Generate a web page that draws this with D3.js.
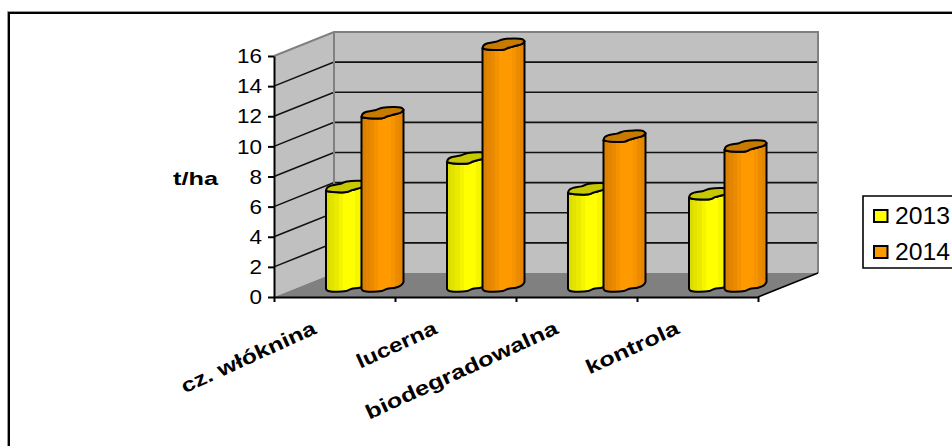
<!DOCTYPE html>
<html>
<head>
<meta charset="utf-8">
<script src="https://cdn.jsdelivr.net/npm/d3@7/dist/d3.min.js"></script>
<style>
  html, body { margin: 0; padding: 0; background: #fff; }
  svg { display: block; }
  text { font-family: "Liberation Sans", Arial, sans-serif; fill: #000; }
</style>
</head>
<body>
<div id="chart"></div>
<script>
// Yield in t/ha per treatment and year
const categories = ["cz. włóknina", "lucerna", "biodegradowalna", "kontrola"];
const years = ["2013", "2014"];
const values2013 = [6.6, 8.5, 6.45, 6.13];
const values2014 = [11.5, 16.05, 9.95, 9.3];
const yTicks = [0, 2, 4, 6, 8, 10, 12, 14, 16];
const yTitle = "t/ha";

const seriesValues = [values2013, values2014];
const face = ["#ffff00", "#ff9900"];
const faceDark = ["#dcdc00", "#dc8000"];
const cap = ["#c8c800", "#c67a00"];

const width = 952, height = 446;
const depth = { x: 60, y: -24 };            // oblique offset from front plane to back wall
const plot = { left: 274, right: 758, top: 56, bottom: 297 };

const svg = d3.select("#chart").append("svg").attr("width", width).attr("height", height);

const x = d3.scaleBand().domain(categories).range([plot.left, plot.right]);
const xEdges = d3.scaleLinear().domain([0, categories.length]).range([plot.left, plot.right]);
const y = d3.scaleLinear().domain([0, 16]).range([plot.bottom, plot.top]);

// Outer chart frame, open towards the right and bottom
svg.append("path").attr("d", `M9,${height} V13 H${width}`)
  .attr("fill", "none").attr("stroke", "#000").attr("stroke-width", 2);
svg.append("path").attr("d", `M7.5,${height} V11.5 H${width}`)
  .attr("fill", "none").attr("stroke", "#999").attr("stroke-width", 1);

// Walls and floor
const poly = pts => "M" + pts.map(p => p.join(",")).join("L") + "Z";
const [y0, y16] = [y(0), y(16)];
const bx = depth.x, by = depth.y;
svg.append("path")
  .attr("d", poly([[plot.left, y0], [plot.left, y16], [plot.left + bx, y16 + by], [plot.left + bx, y0 + by]]))
  .attr("fill", "#c0c0c0");
svg.append("path")
  .attr("d", poly([[plot.left + bx, y16 + by], [plot.right + bx, y16 + by], [plot.right + bx, y0 + by], [plot.left + bx, y0 + by]]))
  .attr("fill", "#c0c0c0");
svg.append("path")
  .attr("d", poly([[plot.left, y0], [plot.right, y0], [plot.right + bx, y0 + by], [plot.left + bx, y0 + by]]))
  .attr("fill", "#808080");

// Gridlines run across the side wall and the back wall
svg.append("g").selectAll("path").data(yTicks.filter(t => t > 0 && t < 16)).join("path")
  .attr("d", t => `M${plot.left},${y(t)} L${plot.left + bx},${y(t) + by} H${plot.right + bx}`)
  .attr("fill", "none").attr("stroke", "#111").attr("stroke-width", 1.6);

// Wall outlines
svg.append("path")
  .attr("d", `M${plot.left},${y16} L${plot.left + bx},${y16 + by} H${plot.right + bx} V${y0 + by} M${plot.left + bx},${y16 + by} V${y0 + by}`)
  .attr("fill", "none").attr("stroke", "#808080").attr("stroke-width", 2);
svg.append("path")
  .attr("d", `M${plot.right},${y0} L${plot.right + bx},${y0 + by}`)
  .attr("fill", "none").attr("stroke", "#000").attr("stroke-width", 1.5);

// Stepped horizontal shading that gives the columns their rounded look
const defs = svg.append("defs");
years.forEach((yr, s) => {
  const shade = d3.interpolateRgb(faceDark[s], face[s]);
  const steps = [0, 0.2, 0.4, 0.7, 1, 1, 1, 0.75, 0.45, 0.25];
  const g = defs.append("linearGradient").attr("id", "shade" + yr);
  steps.forEach((k, i) => {
    g.append("stop").attr("offset", i / steps.length).attr("stop-color", shade(k));
    g.append("stop").attr("offset", (i + 1) / steps.length).attr("stop-color", shade(k));
  });
});

// Wavy outline of the column, as fractions of its width and pixel offsets
const barW = 42;
const baseLift = 0.25;                     // columns stand a little behind the floor's front edge
const curve = d3.line().curve(d3.curveCatmullRom.alpha(0.5));
const frontEdge = [[0, -1], [.07, 0], [.5, .5], [.62, -1.5], [.8, -3.5], [.95, -5.5], [1, -8]];
const backEdge = [[1, -8], [.95, -10], [.5, -10], [.32, -7.5], [.12, -6], [.03, -4], [0, -1]];
const baseEdge = [[0, -2], [.05, 0], [.48, 0], [.6, -2], [.82, -3.5], [.95, -6], [1, -9]];

const barGroups = svg.append("g").selectAll("g").data(categories).join("g");
barGroups.each(function (cat, c) {
  const left = x(cat) + x.bandwidth() / 2 + depth.x / 2;
  years.forEach((yr, s) => {
    const x0 = left + (s === 0 ? -38.5 : -3);
    const base = y(0) + depth.y * baseLift;
    const top = y(seriesValues[s][c]) + depth.y * baseLift;
    const at = (pts, yy) => pts.map(([fx, dy]) => [x0 + fx * barW, yy + dy]);
    const body = curve(at(baseEdge, base)) +
      `L${x0 + barW},${top - 8}` +
      curve(at(frontEdge.slice().reverse(), top)).replace(/^M/, "L") + "Z";
    const g = d3.select(this);
    g.append("path").attr("d", body)
      .attr("fill", `url(#shade${yr})`).attr("stroke", "#000").attr("stroke-width", 2).attr("stroke-linejoin", "round");
    const capPath = curve(at(frontEdge, top)) + curve(at(backEdge, top)).replace(/^M/, "L") + "Z";
    g.append("path").attr("d", capPath)
      .attr("fill", cap[s]).attr("stroke", "#000").attr("stroke-width", 2).attr("stroke-linejoin", "round");
  });
});

// Value axis
const yAxis = d3.axisLeft(y).tickValues(yTicks).tickSize(6).tickPadding(6).tickSizeOuter(0);
const yG = svg.append("g").attr("transform", `translate(${plot.left},0)`).call(yAxis);
yG.selectAll("path, line").attr("stroke", "#000").attr("stroke-width", 2);
yG.selectAll(".tick text").attr("font-size", 21).attr("fill", "#000")
  .attr("textLength", d => (String(d).length === 2 ? 25 : 12.5)).attr("lengthAdjust", "spacingAndGlyphs");

// Category axis: tick marks at category boundaries, labels rotated beneath
const edgeAxis = d3.axisBottom(xEdges).ticks(categories.length).tickSize(5).tickSizeOuter(0).tickFormat("");
const xG = svg.append("g").attr("transform", `translate(0,${plot.bottom})`).call(edgeAxis);
xG.selectAll("path, line").attr("stroke", "#000").attr("stroke-width", 2);

const labelWidths = [146, 86, 209, 100];
svg.append("g").selectAll("text").data(categories).join("text")
  .attr("transform", d => `translate(${x(d) + x.bandwidth() / 2 - 17},${plot.bottom + 36}) rotate(-24.5)`)
  .attr("text-anchor", "end")
  .attr("font-size", 20).attr("font-weight", "bold")
  .attr("textLength", (d, i) => labelWidths[i]).attr("lengthAdjust", "spacingAndGlyphs")
  .text(d => d);

// Axis title
svg.append("text").attr("x", 173).attr("y", 185)
  .attr("font-size", 19).attr("font-weight", "bold")
  .attr("textLength", 45).attr("lengthAdjust", "spacingAndGlyphs")
  .text(yTitle);

// Legend, its box running to the edge of the frame
svg.append("path").attr("d", `M${width},196 H863 V268 H${width}`)
  .attr("fill", "#fff").attr("stroke", "#000").attr("stroke-width", 1.6);
const legend = svg.append("g").selectAll("g").data(years).join("g")
  .attr("transform", (d, i) => `translate(874,${210 + i * 36})`);
legend.append("rect").attr("width", 13.5).attr("height", 12)
  .attr("fill", (d, i) => face[i]).attr("stroke", "#000").attr("stroke-width", 2);
legend.append("text").attr("x", 21).attr("y", 14)
  .attr("font-size", 23).attr("textLength", 55).attr("lengthAdjust", "spacingAndGlyphs")
  .text(d => d);
</script>
</body>
</html>
